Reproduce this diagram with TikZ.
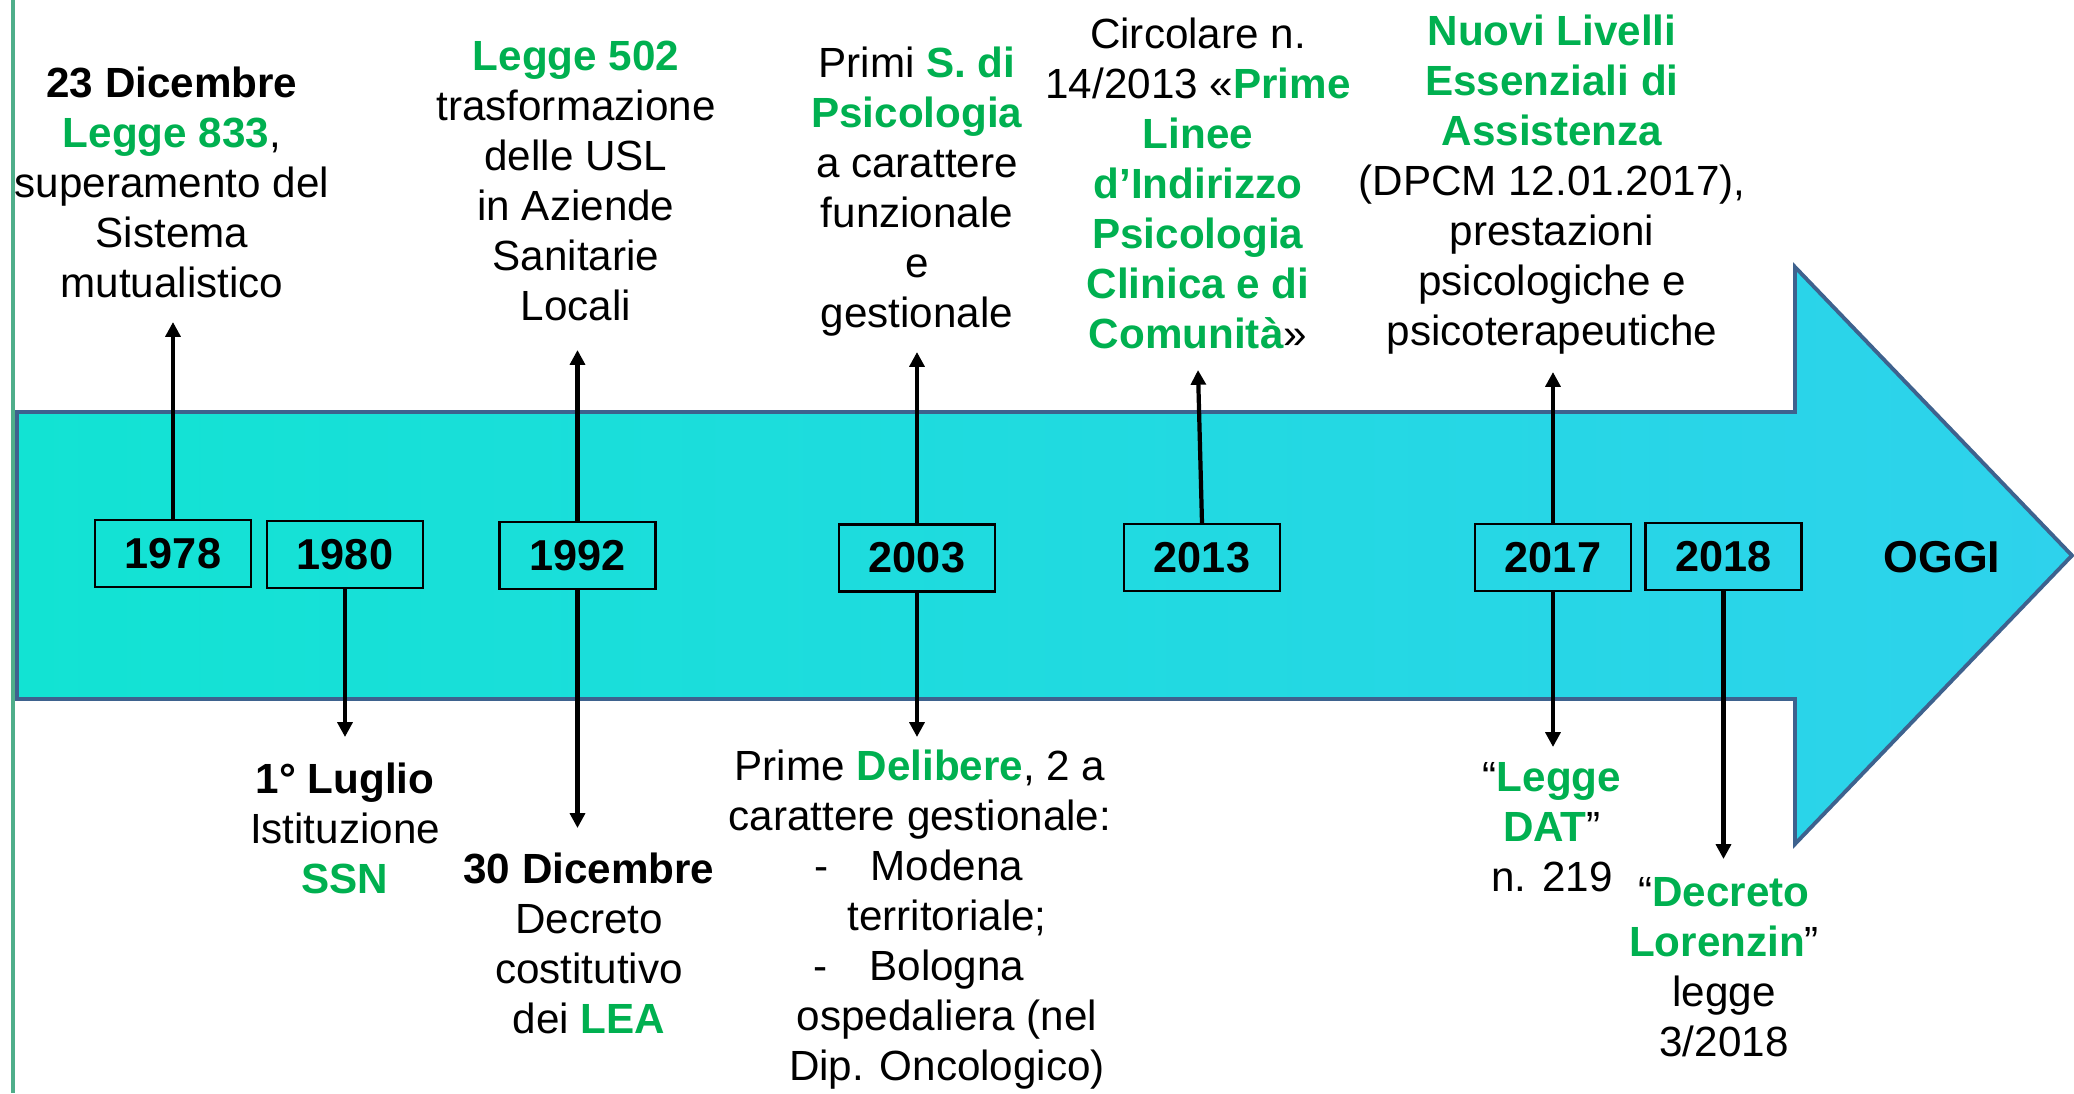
\documentclass[tikz,border=0pt]{standalone}
\usepackage{fontspec}
\setmainfont{Liberation Sans}
\usepackage{tikz}
\usetikzlibrary{
  arrows.meta,
}
\definecolor{lawGreen}{HTML}{00B050}
\definecolor{arrowLeft}{HTML}{12E3D3}
\definecolor{arrowRight}{HTML}{2ED2EC}
\definecolor{arrowEdge}{HTML}{3E628E}
\definecolor{slideEdge}{HTML}{4FAE8A}
\tikzset{
  bigarrow/.style={
    draw=arrowEdge, line width=1.1pt, line join=miter,
    left color=arrowLeft, right color=arrowRight,
  },
  yearbox/.style={
    rectangle, draw=black, line width=0.6pt, inner sep=0pt,
    minimum width=1.56cm, minimum height=0.67cm,
    font=\fontsize{12.3}{14.4}\selectfont\bfseries,
  },
  note/.style={
    anchor=north, align=center, inner sep=0pt,
    font=\fontsize{12}{14.23}\selectfont,
  },
  pointer/.style={
    -{Triangle[length=4.2pt,width=4.2pt]}, line width=1.2pt, draw=black,
  },
}

\begin{document}
\begin{tikzpicture}[x=0.01cm, y=-0.01cm]

\useasboundingbox (0,0) rectangle (2074,1093);

% slide edge and the big timeline arrow
\draw[slideEdge, line width=1pt] (13,0) -- (13,1093);
\path[bigarrow] (17,412) -- (1795,412) -- (1795,267) -- (2072,555.5)
  -- (1795,844) -- (1795,699) -- (17,699) -- cycle;

\node[font=\fontsize{12.7}{15}\selectfont\bfseries] (oggi) at (1942,557) {OGGI};

% year boxes
\node[yearbox] (y1978) at (173,553.5) {1978};
\node[yearbox] (y1980) at (345,554.5) {1980};
\node[yearbox] (y1992) at (577.5,555.5) {1992};
\node[yearbox] (y2003) at (917,558) {2003};
\node[yearbox] (y2013) at (1202,557.5) {2013};
\node[yearbox] (y2017) at (1553,557.5) {2017};
\node[yearbox] (y2018) at (1723.5,556.5) {2018};

% pointer ends
\coordinate (up1978) at (173,322);
\coordinate (dn1980) at (345,737);
\coordinate (up1992) at (577.5,350);
\coordinate (dn1992) at (577.5,828);
\coordinate (up2003) at (917,352);
\coordinate (dn2003) at (917,737);
\coordinate (up2013) at (1198,370);
\coordinate (up2017) at (1553,372);
\coordinate (dn2017) at (1553,747);
\coordinate (dn2018) at (1723.5,859);

% texts above the arrow
\node[note] (t1978) at (172,66) {%
  \textbf{23 Dicembre}\\
  \textcolor{lawGreen}{\textbf{Legge 833}},\\
  superamento del\\
  Sistema\\
  mutualistico};

\node[note] (t1992a) at (576,40) {%
  \textcolor{lawGreen}{\textbf{Legge 502}}\\
  trasformazione\\
  delle USL\\
  in Aziende\\
  Sanitarie\\
  Locali};

\node[note] (t2003a) at (917,46) {%
  Primi \textcolor{lawGreen}{\textbf{S. di}}\\
  \textcolor{lawGreen}{\textbf{Psicologia}}\\
  a carattere\\
  funzionale\\
  e\\
  gestionale};

\node[note] (t2013) at (1198,17) {%
  Circolare n.\\
  14/2013 «\textcolor{lawGreen}{\textbf{Prime}}\\
  \textcolor{lawGreen}{\textbf{Linee}}\\
  \textcolor{lawGreen}{\textbf{d’Indirizzo}}\\
  \textcolor{lawGreen}{\textbf{Psicologia}}\\
  \textcolor{lawGreen}{\textbf{Clinica e di}}\\
  \textcolor{lawGreen}{\textbf{Comunità}}»};

\node[note] (t2017a) at (1552,14) {%
  \textcolor{lawGreen}{\textbf{Nuovi Livelli}}\\
  \textcolor{lawGreen}{\textbf{Essenziali di}}\\
  \textcolor{lawGreen}{\textbf{Assistenza}}\\
  (DPCM 12.01.2017),\\
  prestazioni\\
  psicologiche e\\
  psicoterapeutiche};

% texts below the arrow
\node[note] (t1980) at (345,762) {%
  \textbf{1° Luglio}\\
  Istituzione\\
  \textcolor{lawGreen}{\textbf{SSN}}};

\node[note] (t1992b) at (589,852) {%
  \textbf{30 Dicembre}\\
  Decreto\\
  costitutivo\\
  dei \textcolor{lawGreen}{\textbf{LEA}}};

\node[note] (t2003b) at (920,749) {%
  Prime \textcolor{lawGreen}{\textbf{Delibere}}, 2 a\\
  carattere gestionale:\\
  \hspace*{0.54cm}\llap{-\hspace{0.42cm}}Modena\\
  \hspace*{0.54cm}territoriale;\\
  \hspace*{0.54cm}\llap{-\hspace{0.42cm}}Bologna\\
  \hspace*{0.54cm}ospedaliera (nel\\
  \hspace*{0.54cm}Dip. Oncologico)};

\node[note] (t2017b) at (1552,762) {%
  “\textcolor{lawGreen}{\textbf{Legge}}\\
  \textcolor{lawGreen}{\textbf{DAT}}”\\
  n. 219};

\node[note] (t2018) at (1724,877) {%
  “\textcolor{lawGreen}{\textbf{Decreto}}\\
  \textcolor{lawGreen}{\textbf{Lorenzin}}”\\
  legge\\
  3/2018};

% pointers
\draw[pointer] (y1978.north) -- (up1978);
\draw[pointer] (y1980.south) -- (dn1980);
\draw[pointer] (y1992.north) -- (up1992);
\draw[pointer] (y1992.south) -- (dn1992);
\draw[pointer] (y2003.north) -- (up2003);
\draw[pointer] (y2003.south) -- (dn2003);
\draw[pointer] (y2013.north) -- (up2013);
\draw[pointer] (y2017.north) -- (up2017);
\draw[pointer] (y2017.south) -- (dn2017);
\draw[pointer] (y2018.south) -- (dn2018);

\end{tikzpicture}
\end{document}
